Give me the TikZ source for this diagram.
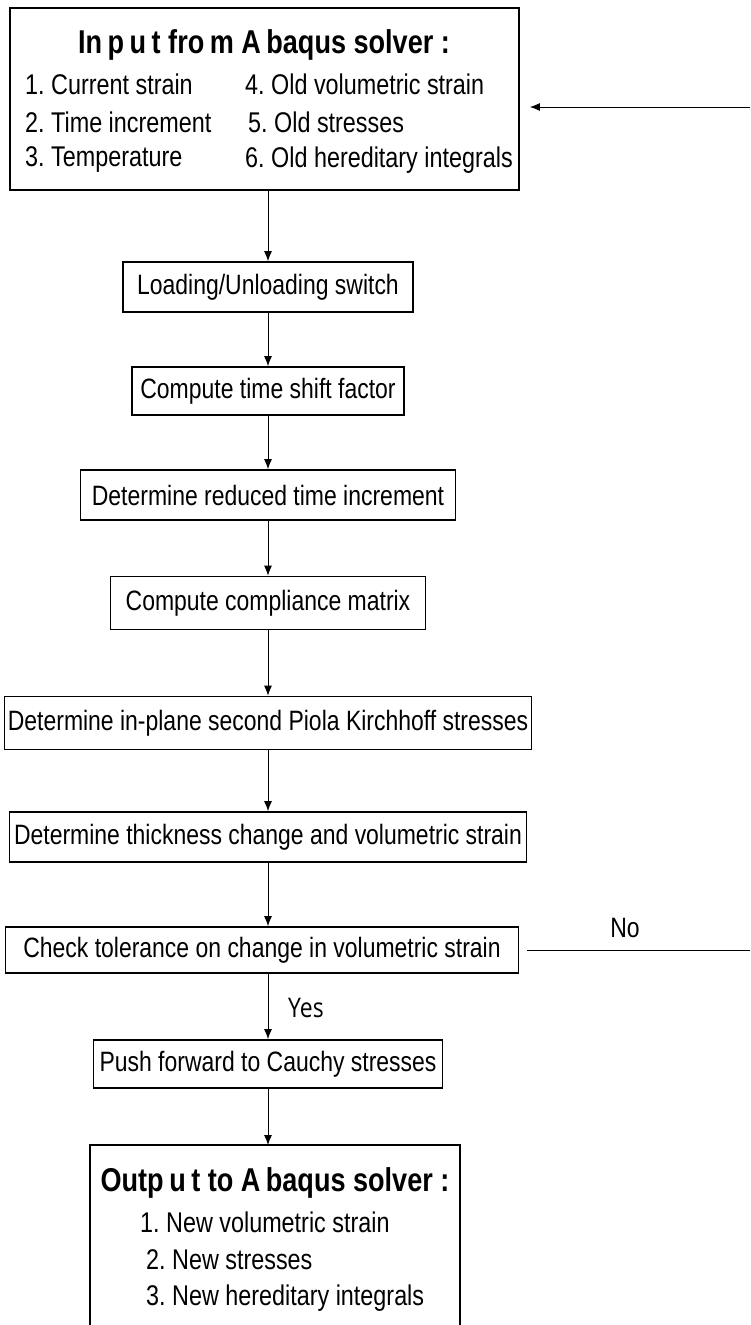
\documentclass[tikz,border=0pt]{standalone}
\usepackage{fontspec}
\setmainfont{Liberation Sans}[FakeStretch=0.82]
\newfontfamily\yesfont{Open Sans}[FakeStretch=0.85]
\usetikzlibrary{arrows.meta}
\tikzset{
  stepbox/.style={draw, line width=1.8pt, inner sep=0pt, minimum height=50pt, font=\fontsize{28}{32}\selectfont},
  arr/.style={line width=0.9pt, -{Latex[length=10pt,width=8pt]}},
  plain/.style={line width=0.9pt},
  item/.style={anchor=west, inner sep=0pt, font=\fontsize{28.5}{32}\selectfont},
  title/.style={inner sep=0pt, font=\fontsize{33}{36}\selectfont\bfseries},
}
\begin{document}
\frenchspacing
\begin{tikzpicture}[x=1pt,y=-1pt]
\useasboundingbox (0,0) rectangle (750,1325);
% top input box
\node[draw, line width=1.8pt, minimum width=509pt, minimum height=182pt, inner sep=0pt] (top) at (264.5,99) {};
\node[title] (ttl) at (264,45) {In\,p\,u\,t  fro\,m  A\,baqus solver :};
\node[item] (i1) at (25,84) {1. Current strain};
\node[item] (i2) at (25,122) {2. Time increment};
\node[item] (i3) at (25,160) {3. Temperature};
\node[item] (i4) at (245,84) {4. Old volumetric strain};
\node[item] (i5) at (248,122) {5. Old stresses};
\node[item] (i6) at (245,160) {6. Old hereditary integrals};
% steps
\node[stepbox, minimum width=290pt] (b1) at (268,287) {Loading/Unloading switch};
\node[stepbox, minimum width=272pt, minimum height=48pt] (b2) at (268,391) {Compute time shift factor};
\node[stepbox, minimum width=375pt] (b3) at (268,495) {Determine reduced time increment};
\node[stepbox, minimum width=315pt, minimum height=53pt] (b4) at (268,603) {Compute compliance matrix};
\node[stepbox, minimum width=527pt, minimum height=53pt] (b5) at (268,723) {Determine in-plane second Piola Kirchhoff stresses};
\node[stepbox, minimum width=517pt] (b6) at (268,837) {Determine thickness change and volumetric strain};
\node[stepbox, minimum width=513pt, minimum height=46pt] (b7) at (262,950) {Check tolerance on change in volumetric strain};
\node[stepbox, minimum width=349pt, minimum height=48pt] (b8) at (268,1064) {Push forward to Cauchy stresses};
% output box (open at the bottom)
\node[minimum width=370pt, minimum height=182pt, inner sep=0pt, anchor=north] (out) at (275,1145) {};
\draw[line width=1.8pt] (out.south west) -- (out.north west) -- (out.north east) -- (out.south east);
\node[title] (ottl) at (275,1183) {Outp\,u\,t  to  A\,baqus solver :};
\node[item] (o1) at (140,1222) {1. New volumetric strain};
\node[item] (o2) at (146,1260) {2. New stresses};
\node[item] (o3) at (146,1298) {3. New hereditary integrals};
% connectors
\draw[arr] (top.south -| b1.north) -- (b1.north);
\draw[arr] (b1.south) -- (b2.north);
\draw[arr] (b2.south) -- (b3.north);
\draw[arr] (b3.south) -- (b4.north);
\draw[arr] (b4.south) -- (b5.north);
\draw[arr] (b5.south) -- (b6.north);
\draw[arr] (b6.south) -- (b6.south |- b7.north);
\draw[arr] (b6.south |- b7.south) -- (b8.north);
\draw[arr] (b8.south) -- (b8.south |- out.north);
% feedback
\coordinate (noend) at (750,950);
\coordinate (fbstart) at (750,107);
\draw[plain, shorten <=8pt] (b7.east) -- (noend);
\draw[arr, shorten >=10pt] (fbstart) -- (fbstart -| top.east);
\node[font=\fontsize{28}{32}\selectfont, inner sep=0pt] (no) at (625,928) {No};
\node[font=\fontsize{27}{32}\selectfont\yesfont, inner sep=0pt] (yes) at (306,1008) {Yes};
\end{tikzpicture}
\end{document}
